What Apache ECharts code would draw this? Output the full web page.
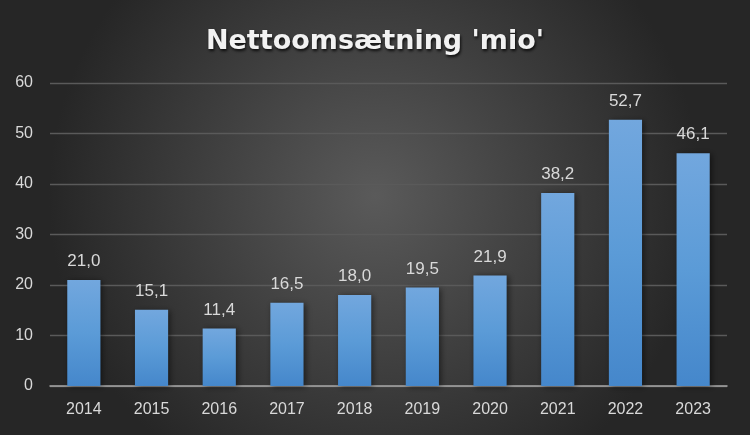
<!DOCTYPE html>
<html>
<head>
<meta charset="utf-8">
<script src="https://cdn.jsdelivr.net/npm/echarts@6/dist/echarts.min.js"></script>
<style>html,body{margin:0;padding:0;background:#262626;}#c{width:750px;height:435px;}</style>
</head>
<body>
<div id="c"></div>
<script>
const categories = ['2014','2015','2016','2017','2018','2019','2020','2021','2022','2023'];
const values = [21.0, 15.1, 11.4, 16.5, 18.0, 19.5, 21.9, 38.2, 52.7, 46.1];
const titleText = "Nettoomsætning 'mio'";
const yMin = 0, yMax = 60, yStep = 10;

const chart = echarts.init(document.getElementById('c'), null, {renderer: 'canvas'});
chart.setOption({
  backgroundColor: {
    type: 'radial', x: 0.5, y: 0.45, r: 0.75,
    colorStops: [{offset: 0, color: '#5a5a5a'}, {offset: 1, color: '#262626'}]
  },
  animation: false,
  title: {
    text: titleText, left: 'center', top: 23,
    textStyle: {
      color: '#f2f2f2', fontSize: 27, fontWeight: 'bold', fontFamily: 'DejaVu Sans',
      textShadowColor: 'rgba(0,0,0,0.8)', textShadowBlur: 3, textShadowOffsetX: 1, textShadowOffsetY: 2
    }
  },
  grid: {left: 50, right: 23, top: 83, bottom: 49, containLabel: false},
  xAxis: {
    type: 'category', data: categories,
    axisLine: {lineStyle: {color: '#a6a6a6', width: 1.5}},
    axisTick: {show: false},
    axisLabel: {color: '#d9d9d9', fontSize: 16, fontFamily: 'Liberation Sans', margin: 16}
  },
  yAxis: {
    type: 'value', min: yMin, max: yMax, interval: yStep,
    axisLine: {show: false}, axisTick: {show: false},
    axisLabel: {color: '#d9d9d9', fontSize: 16, fontFamily: 'Liberation Sans', margin: 17},
    splitLine: {lineStyle: {color: '#5a5a5a', width: 1.3}}
  },
  series: [{
    type: 'bar', data: values, barWidth: '49%',
    itemStyle: {
      color: {type: 'linear', x: 0, y: 0, x2: 0, y2: 1,
        colorStops: [{offset: 0, color: '#72a7de'}, {offset: 0.5, color: '#5b9bd7'}, {offset: 1, color: '#4587cb'}]},
      shadowColor: 'rgba(0,0,0,0.5)', shadowBlur: 6, shadowOffsetX: 2, shadowOffsetY: 1
    },
    label: {
      show: true, position: 'top', distance: 10, color: '#d9d9d9', fontSize: 17, fontFamily: 'Liberation Sans',
      formatter: p => p.value.toFixed(1).replace('.', ',')
    }
  }]
});
</script>
</body>
</html>
